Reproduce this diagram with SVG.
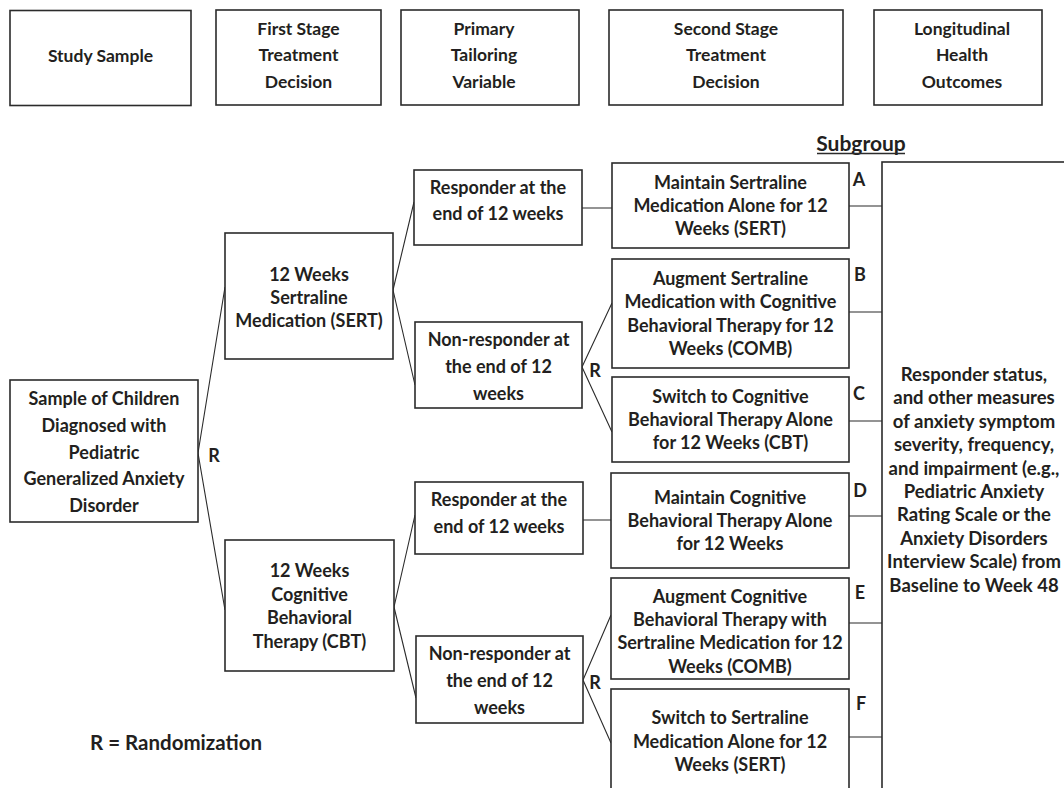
<svg xmlns="http://www.w3.org/2000/svg" width="1064" height="788" viewBox="0 0 1064 788">
<style>
.bx{fill:#fff;stroke:#2b2b2b;stroke-width:1.6}
.ln{fill:none;stroke:#2b2b2b;stroke-width:1.1}
.ul{fill:none;stroke:#2b2b2b;stroke-width:1.6}
text{font-family:Lato,"Liberation Sans",sans-serif;font-weight:bold;font-size:18px;fill:#231f20;text-anchor:middle}
.hd{font-size:17.5px}
.lb{font-size:18px}
.big{font-size:18.5px}
.sg{font-size:21px}
.key{font-size:20.5px;text-anchor:start}
</style>
<rect width="1064" height="788" fill="#fff"/>
<g id="header-study-sample"><rect class="bx" x="10" y="10.5" width="181" height="95"/><text class="hd" x="100.5" y="62">Study Sample</text></g>
<g id="header-first-stage"><rect class="bx" x="216" y="10" width="165" height="95"/><text class="hd" x="298.5" y="34.5">First Stage</text><text class="hd" x="298.5" y="61">Treatment</text><text class="hd" x="298.5" y="87.5">Decision</text></g>
<g id="header-tailoring"><rect class="bx" x="401" y="10" width="178" height="95"/><text class="hd" x="484" y="34.5">Primary</text><text class="hd" x="484" y="61">Tailoring</text><text class="hd" x="484" y="87.5">Variable</text></g>
<g id="header-second-stage"><rect class="bx" x="609" y="10" width="234" height="95"/><text class="hd" x="726" y="34.5">Second Stage</text><text class="hd" x="726" y="61">Treatment</text><text class="hd" x="726" y="87.5">Decision</text></g>
<g id="header-outcomes"><rect class="bx" x="874" y="10" width="168" height="95"/><text class="hd" x="962" y="34.5">Longitudinal</text><text class="hd" x="962" y="61">Health</text><text class="hd" x="962" y="87.5">Outcomes</text></g>

<g id="connectors">
<path class="ln" d="M198 453L225 287M198 453L225 610M393 290L414 202M393 290L415 385M394 607L415 515M394 607L416 698M582 208H612M582 367L612 303M582 367L612 432M583 520H611M583 680L611 615M583 680L611 743M849 206H882M849 312H882M849 421H882M849 516H882M849 623H882M849 737H882"/>
</g>

<g id="sample"><rect class="bx" x="10" y="380" width="188" height="142"/><text x="104" y="405">Sample of Children</text><text x="104" y="432">Diagnosed with</text><text x="104" y="459">Pediatric</text><text x="104" y="485">Generalized Anxiety</text><text x="104" y="512">Disorder</text></g>
<g id="sert"><rect class="bx" x="225" y="233" width="168" height="126"/><text x="309" y="280.5">12 Weeks</text><text x="309" y="303.5">Sertraline</text><text x="309" y="327">Medication (SERT)</text></g>
<g id="cbt"><rect class="bx" x="225" y="540" width="169" height="131"/><text x="309.5" y="577">12 Weeks</text><text x="309.5" y="600.5">Cognitive</text><text x="309.5" y="624">Behavioral</text><text x="309.5" y="648">Therapy (CBT)</text></g>
<g id="responder-sert"><rect class="bx" x="414" y="170" width="168" height="75"/><text x="498" y="194">Responder at the</text><text x="498" y="220">end of 12 weeks</text></g>
<g id="nonresponder-sert"><rect class="bx" x="415" y="322" width="167" height="86"/><text x="498.5" y="346">Non-responder at</text><text x="498.5" y="373">the end of 12</text><text x="498.5" y="400">weeks</text></g>
<g id="responder-cbt"><rect class="bx" x="415" y="482" width="168" height="72"/><text x="499" y="506">Responder at the</text><text x="499" y="533">end of 12 weeks</text></g>
<g id="nonresponder-cbt"><rect class="bx" x="416" y="636" width="167" height="87"/><text x="499.5" y="660">Non-responder at</text><text x="499.5" y="687">the end of 12</text><text x="499.5" y="714">weeks</text></g>
<g id="group-a"><rect class="bx" x="612" y="163" width="237" height="85"/><text x="730.5" y="189">Maintain Sertraline</text><text x="730.5" y="212">Medication Alone for 12</text><text x="730.5" y="235">Weeks (SERT)</text><text class="lb" x="859" y="185.5">A</text></g>
<g id="group-b"><rect class="bx" x="612" y="259" width="237" height="109"/><text x="730.5" y="285">Augment Sertraline</text><text x="730.5" y="308">Medication with Cognitive</text><text x="730.5" y="332">Behavioral Therapy for 12</text><text x="730.5" y="355">Weeks (COMB)</text><text class="lb" x="860" y="280.5">B</text></g>
<g id="group-c"><rect class="bx" x="612" y="377" width="237" height="85"/><text x="730.5" y="403">Switch to Cognitive</text><text x="730.5" y="426">Behavioral Therapy Alone</text><text x="730.5" y="449">for 12 Weeks (CBT)</text><text class="lb" x="859" y="399.5">C</text></g>
<g id="group-d"><rect class="bx" x="611" y="473" width="238" height="95"/><text x="730" y="504">Maintain Cognitive</text><text x="730" y="527">Behavioral Therapy Alone</text><text x="730" y="550">for 12 Weeks</text><text class="lb" x="860" y="496.5">D</text></g>
<g id="group-e"><rect class="bx" x="611" y="578" width="238" height="101"/><text x="730" y="603">Augment Cognitive</text><text x="730" y="626">Behavioral Therapy with</text><text x="730" y="649">Sertraline Medication for 12</text><text x="730" y="673">Weeks (COMB)</text><text class="lb" x="860" y="598.5">E</text></g>
<g id="group-f"><rect class="bx" x="611" y="689" width="238" height="110"/><text x="730" y="724">Switch to Sertraline</text><text x="730" y="748">Medication Alone for 12</text><text x="730" y="771">Weeks (SERT)</text><text class="lb" x="861" y="709.5">F</text></g>
<g id="outcomes"><rect class="bx" x="882" y="162" width="190" height="640"/>
<text class="big" x="974" y="380.5">Responder status,</text><text class="big" x="974" y="404">and other measures</text><text class="big" x="974" y="427.5">of anxiety symptom</text><text class="big" x="974" y="451">severity, frequency,</text><text class="big" x="974" y="474.5">and impairment (e.g.,</text><text class="big" x="974" y="497.5">Pediatric Anxiety</text><text class="big" x="974" y="521">Rating Scale or the</text><text class="big" x="974" y="544.5">Anxiety Disorders</text><text class="big" x="974" y="568">Interview Scale) from</text><text class="big" x="974" y="591.5">Baseline to Week 48</text></g>
<g id="subgroup-heading"><text class="sg" x="861" y="151">Subgroup</text><path class="ul" d="M817 153.5H905"/></g>
<g id="randomization-labels"><text class="lb" x="214" y="461.5">R</text><text class="lb" x="595" y="376.5">R</text><text class="lb" x="595" y="688.5">R</text><text class="key" x="90" y="750">R = Randomization</text></g>
</svg>
